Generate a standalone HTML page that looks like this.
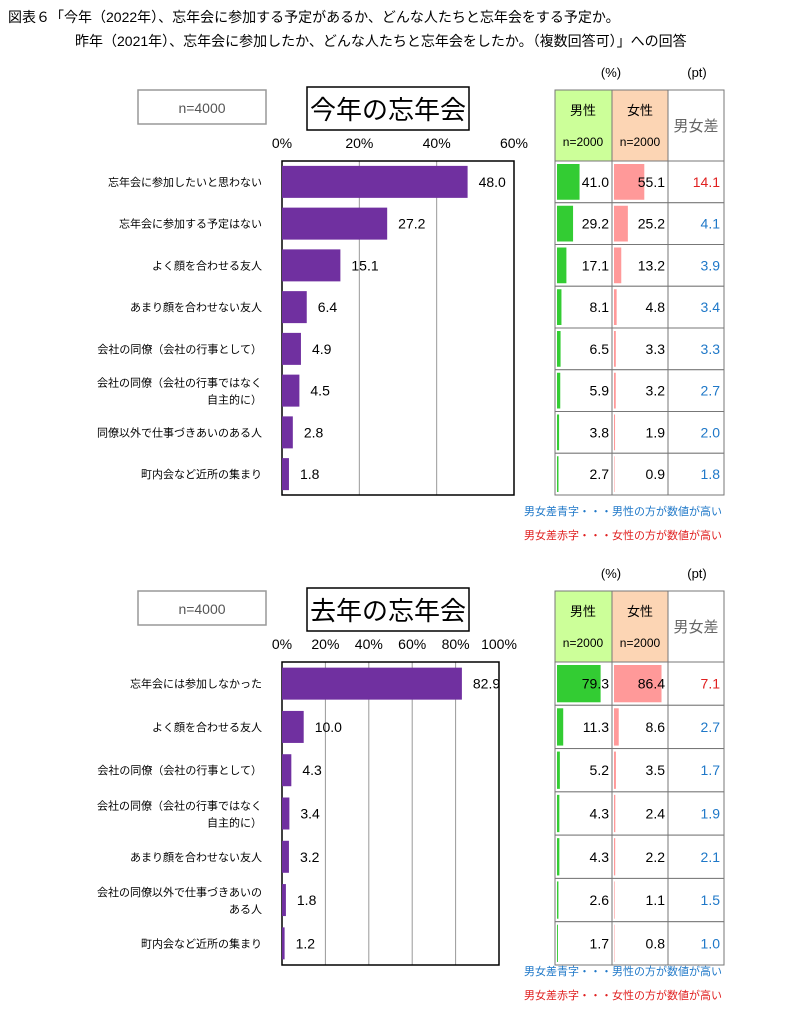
<!DOCTYPE html>
<html><head><meta charset="utf-8">
<style>
body{margin:0;background:#fff;}
svg{display:block;font-family:"Liberation Sans","Noto Sans CJK JP",sans-serif;}
</style></head>
<body>
<svg id="s" width="810" height="1031" xmlns="http://www.w3.org/2000/svg">
<text x="8" y="22" font-size="14" fill="#000">図表６「今年（2022年）、忘年会に参加する予定があるか、どんな人たちと忘年会をする予定か。</text>
<text x="75" y="46" font-size="14" fill="#000">昨年（2021年）、忘年会に参加したか、どんな人たちと忘年会をしたか。（複数回答可）」への回答</text>
<g id="g1"></g>
<g id="g2"></g>
</svg>
<script>
const cats1=["忘年会に参加したいと思わない","忘年会に参加する予定はない","よく顔を合わせる友人","あまり顔を合わせない友人","会社の同僚（会社の行事として）","会社の同僚（会社の行事ではなく|自主的に）","同僚以外で仕事づきあいのある人","町内会など近所の集まり"];
const total1=[48.0,27.2,15.1,6.4,4.9,4.5,2.8,1.8];
const male1=[41.0,29.2,17.1,8.1,6.5,5.9,3.8,2.7];
const female1=[55.1,25.2,13.2,4.8,3.3,3.2,1.9,0.9];
const diff1=[14.1,4.1,3.9,3.4,3.3,2.7,2.0,1.8];
const diffRed1=[true,false,false,false,false,false,false,false];
const ticks1=[0,20,40,60];
const cats2=["忘年会には参加しなかった","よく顔を合わせる友人","会社の同僚（会社の行事として）","会社の同僚（会社の行事ではなく|自主的に）","あまり顔を合わせない友人","会社の同僚以外で仕事づきあいの|ある人","町内会など近所の集まり"];
const total2=[82.9,10.0,4.3,3.4,3.2,1.8,1.2];
const male2=[79.3,11.3,5.2,4.3,4.3,2.6,1.7];
const female2=[86.4,8.6,3.5,2.4,2.2,1.1,0.8];
const diff2=[7.1,2.7,1.7,1.9,2.1,1.5,1.0];
const diffRed2=[true,false,false,false,false,false,false];
const ticks2=[0,20,40,60,80,100];

const NS="http://www.w3.org/2000/svg";
function mk(p,tag,at,txt){const e=document.createElementNS(NS,tag);for(const k in at)e.setAttribute(k,at[k]);if(txt!=null)e.textContent=txt;p.appendChild(e);return e;}

function draw(g,o){
  const {cats,total,male,female,diff,red,ticks,max,title,top,bottom,right,hdrTop,noteY,nRight}=o;
  const L=282;
  const x=v=>L+(right-L)*v/max;
  const n=cats.length, rh=(bottom-top)/n;
  let e;
  e=mk(g,'rect',{x:138,y:hdrTop,width:nRight-138,height:34,fill:'#fff',stroke:'#999','stroke-width':1.5});
  
  e=mk(g,'text',{x:(138+nRight)/2,y:hdrTop+23,'font-size':14,fill:'#555','text-anchor':'middle'},'n=4000');
  
  e=mk(g,'rect',{x:307,y:hdrTop-3,width:162,height:43,fill:'#fff',stroke:'#000','stroke-width':1.5});
  
  e=mk(g,'text',{x:388,y:hdrTop+29,'font-size':26,fill:'#000','text-anchor':'middle'},title);
  
  ticks.forEach(t=>{
    e=mk(g,'text',{x:x(t),y:top-13,'font-size':14,fill:'#000','text-anchor':'middle'},t+'%');
    
    if(t>0&&t<max){e=mk(g,'line',{x1:x(t),x2:x(t),y1:top,y2:bottom,stroke:'#999','stroke-width':1});
    }
  });
  e=mk(g,'rect',{x:L,y:top,width:right-L,height:bottom-top,fill:'none',stroke:'#000','stroke-width':1.5});
  
  // table
  const c0=555,c1=612,c2=668,c3=724;
  e=mk(g,'text',{x:611,y:hdrTop-13,'font-size':13,fill:'#000','text-anchor':'middle'},'(%)');
  
  e=mk(g,'text',{x:697,y:hdrTop-13,'font-size':13,fill:'#000','text-anchor':'middle'},'(pt)');
  
  e=mk(g,'rect',{x:c0,y:hdrTop,width:c1-c0,height:top-hdrTop,fill:'#ccff99',stroke:'#777'});
  
  e=mk(g,'rect',{x:c1,y:hdrTop,width:c2-c1,height:top-hdrTop,fill:'#fcd5b4',stroke:'#777'});
  
  e=mk(g,'rect',{x:c2,y:hdrTop,width:c3-c2,height:top-hdrTop,fill:'#fff',stroke:'#777'});
  
  [['男性',c0],['女性',c1]].forEach(([s,cx])=>{
    e=mk(g,'text',{x:cx+28,y:hdrTop+25,'font-size':13,fill:'#000','text-anchor':'middle'},s);
    
    e=mk(g,'text',{x:cx+28,y:hdrTop+56,'font-size':12,fill:'#000','text-anchor':'middle'},'n=2000');
    
  });
  e=mk(g,'text',{x:696,y:hdrTop+41,'font-size':15,fill:'#666','text-anchor':'middle'},'男女差');
  
  const cs=0.55;
  for(let i=0;i<n;i++){
    const y0=top+i*rh, cy=y0+rh/2;
    const lines=cats[i].split('|');
    lines.forEach((s,k)=>{
      const yy=lines.length==1?cy+4:cy-4+k*17;
      e=mk(g,'text',{x:262,y:yy,'font-size':11,fill:'#000','text-anchor':'end'},s);
      
    });
    e=mk(g,'rect',{x:L,y:cy-16,width:x(total[i])-L,height:32,fill:'#7030a0'});
    
    e=mk(g,'text',{x:x(total[i])+11,y:cy+5,'font-size':14,fill:'#000'},total[i].toFixed(1));
    
    [[c0,c1],[c1,c2],[c2,c3]].forEach(([a,b])=>{
      e=mk(g,'rect',{x:a,y:y0,width:b-a,height:rh,fill:'#fff',stroke:'#777'});
      
    });
    e=mk(g,'rect',{x:c0+2,y:y0+3,width:male[i]*cs,height:rh-6,fill:'#33cc33'});
    
    e=mk(g,'rect',{x:c1+2,y:y0+3,width:female[i]*cs,height:rh-6,fill:'#ff9999'});
    
    e=mk(g,'text',{x:c1-3,y:cy+5,'font-size':14,fill:'#000','text-anchor':'end'},male[i].toFixed(1));
    
    e=mk(g,'text',{x:c2-3,y:cy+5,'font-size':14,fill:'#000','text-anchor':'end'},female[i].toFixed(1));
    
    e=mk(g,'text',{x:c3-4,y:cy+5,'font-size':14,fill:red[i]?'#e02020':'#1f78c8','text-anchor':'end'},diff[i].toFixed(1));
    
  }
  e=mk(g,'text',{x:722,y:noteY,'font-size':11,fill:'#1f78c8','text-anchor':'end'},'男女差青字・・・男性の方が数値が高い');
  
  e=mk(g,'text',{x:722,y:noteY+24,'font-size':11,fill:'#e02020','text-anchor':'end'},'男女差赤字・・・女性の方が数値が高い');
  
}
draw(document.getElementById('g1'),{cats:cats1,total:total1,male:male1,female:female1,diff:diff1,red:diffRed1,ticks:ticks1,max:60,title:'今年の忘年会',top:161,bottom:495,right:514,hdrTop:90,noteY:515,nRight:266});
draw(document.getElementById('g2'),{cats:cats2,total:total2,male:male2,female:female2,diff:diff2,red:diffRed2,ticks:ticks2,max:100,title:'去年の忘年会',top:662,bottom:965,right:499,hdrTop:591,noteY:975,nRight:266});
</script>
</body></html>
